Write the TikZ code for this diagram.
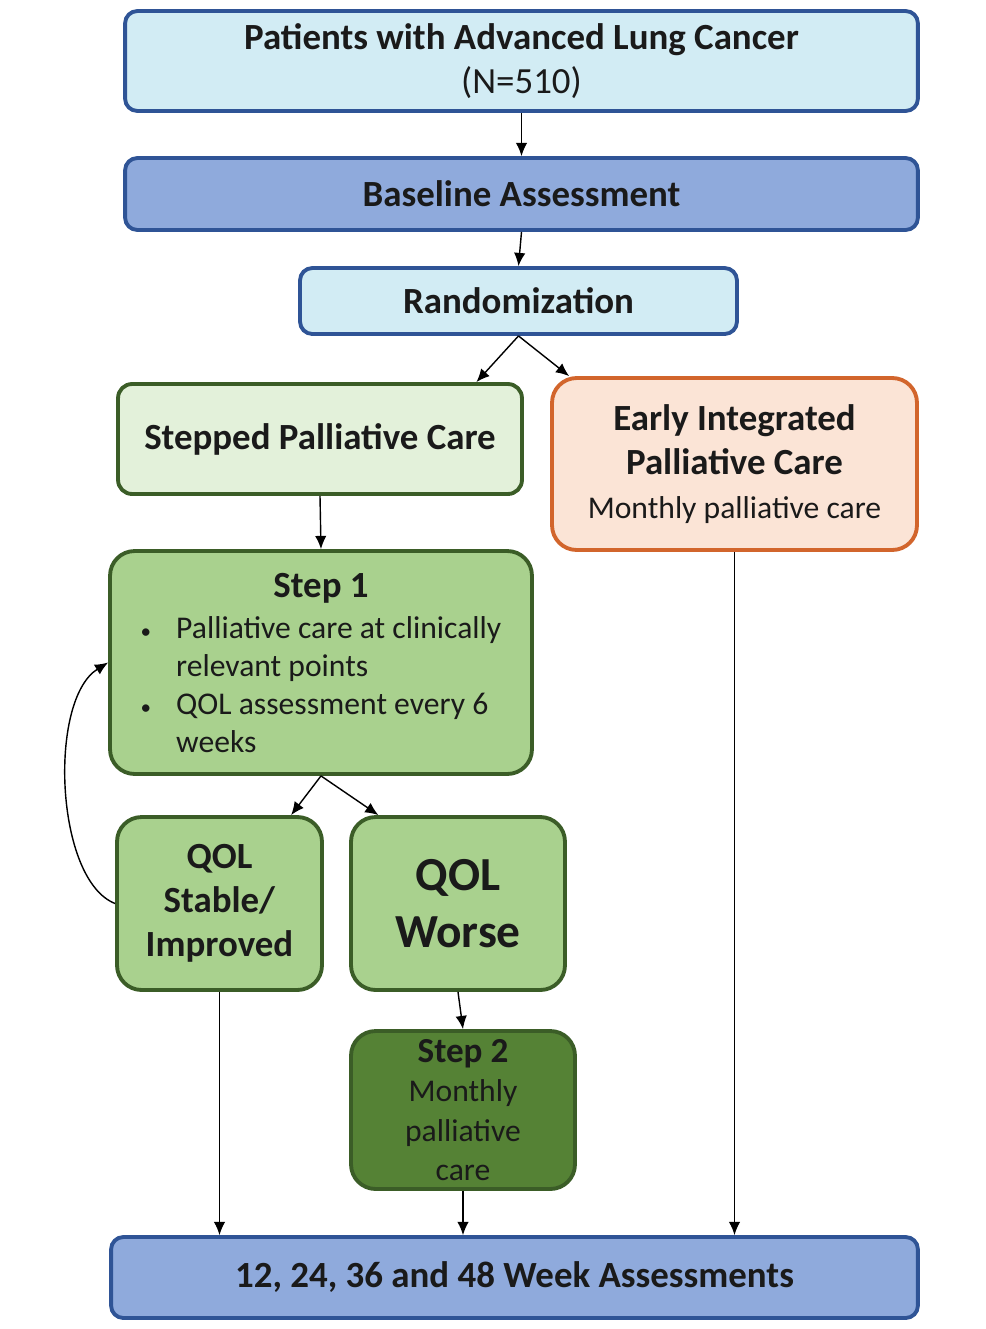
\documentclass[tikz,border=0pt]{standalone}
\usepackage{fontspec}
\setmainfont{Carlito}
\usetikzlibrary{arrows.meta,calc}

\definecolor{boxblue}{HTML}{2F5496}
\definecolor{paleblue}{HTML}{D2ECF4}
\definecolor{midblue}{HTML}{8FAADC}
\definecolor{boxgreen}{HTML}{3B5D27}
\definecolor{palegreen}{HTML}{E3F1DA}
\definecolor{midgreen}{HTML}{A9D18E}
\definecolor{darkgreen}{HTML}{558235}
\definecolor{boxorange}{HTML}{D2652C}
\definecolor{paleorange}{HTML}{FBE4D6}
\definecolor{ink}{HTML}{1A1A1A}

\begin{document}
\begin{tikzpicture}[x=0.02cm, y=-0.02cm]
    \tikzset{>={Latex[length=7.5pt,width=6.5pt]}}
    \tikzset{
        box/.style={draw, line width=2.2pt, rounded corners=7pt, inner sep=0pt, align=center, text=ink},
        bluebox/.style={box, draw=boxblue, fill=paleblue},
        midbox/.style={box, draw=boxblue, fill=midblue},
        greenbox/.style={box, draw=boxgreen, rounded corners=14pt},
        orangebox/.style={box, draw=boxorange, fill=paleorange, rounded corners=14pt},
        big/.style={font=\fontsize{21}{25}\selectfont},
        small/.style={font=\fontsize{18}{21.6}\selectfont},
        link/.style={->, line width=0.8pt, black}
    }
    \useasboundingbox (0,0) rectangle (985,1329);

    % top of the trial
    \node[bluebox, big, minimum width=15.86cm, minimum height=2cm] (patients) at (521.5,61)
        {\textbf{Patients with Advanced Lung Cancer}\\(N=510)};
    \node[midbox, big, minimum width=15.86cm, minimum height=1.44cm] (baseline) at (521.5,194)
        {\textbf{Baseline Assessment}};
    \node[bluebox, big, minimum width=8.74cm, minimum height=1.32cm] (random) at (518.5,301)
        {\textbf{Randomization}};

    % the two arms
    \node[greenbox, fill=palegreen, big, rounded corners=8pt, minimum width=8.08cm, minimum height=2.2cm] (stepped) at (320,439)
        {\textbf{Stepped Palliative Care}};
    \node[orangebox, big, minimum width=7.3cm, minimum height=3.44cm] (early) at (734.5,464)
        {\textbf{Early Integrated}\\\textbf{Palliative Care}\\{\fontsize{18}{21.6}\selectfont Monthly palliative care}};

    \node[greenbox, fill=midgreen, small, minimum width=8.44cm, minimum height=4.46cm] (step1) at (321,662.5)
        {\begin{tabular}{@{}c@{\hspace{0.5cm}}l@{}}
            \multicolumn{2}{c}{\rule{0pt}{20.8pt}\fontsize{21}{25}\selectfont\bfseries Step 1}\\[1.5pt]
            {\fontsize{12}{14}\selectfont\textbullet} & Palliative care at clinically\\
                        & relevant points\\
            {\fontsize{12}{14}\selectfont\textbullet} & QOL assessment every 6\\
                        & weeks
        \end{tabular}};

    \node[greenbox, fill=midgreen, big, minimum width=4.1cm, minimum height=3.46cm] (stable) at (219.5,903.5)
        {\textbf{QOL}\\\textbf{Stable/}\\\textbf{Improved}};
    \node[greenbox, fill=midgreen, font=\fontsize{27}{32}\selectfont, minimum width=4.28cm, minimum height=3.46cm] (worse) at (458,903.5)
        {\textbf{QOL}\\\textbf{Worse}};
    \node[greenbox, fill=darkgreen, font=\fontsize{18}{22.3}\selectfont, minimum width=4.48cm, minimum height=3.16cm] (step2) at (463,1110)
        {{\fontsize{20}{22}\selectfont\bfseries Step 2}\\Monthly\\palliative\\care};

    \node[midbox, big, minimum width=16.14cm, minimum height=1.62cm] (weeks) at (514.5,1277.5)
        {\textbf{12, 24, 36 and 48 Week Assessments}};

    % connectors
    \draw[link] (patients.south) -- (baseline.north);
    \draw[link] (baseline.south) -- (random.north);
    \draw[link] (random.south) -- (stepped.20);
    \draw[link] (random.south) -- (early.152);
    \draw[link] (stepped.south) -- (step1.north);
    \draw[link] (step1.south) -- (stable.51);
    \draw[link] (step1.south) -- (worse.132);
    \draw[link] (worse.south) -- (step2.north);
    \draw[link] (stable.south) -- (stable.south |- weeks.north);
    \draw[link] (step2.south) -- (step2.south |- weeks.north);
    \draw[link] (early.south) -- (early.south |- weeks.north);
    \draw[link] (stable.west) .. controls (55,880) and (48,700) .. (step1.west);
\end{tikzpicture}
\end{document}
